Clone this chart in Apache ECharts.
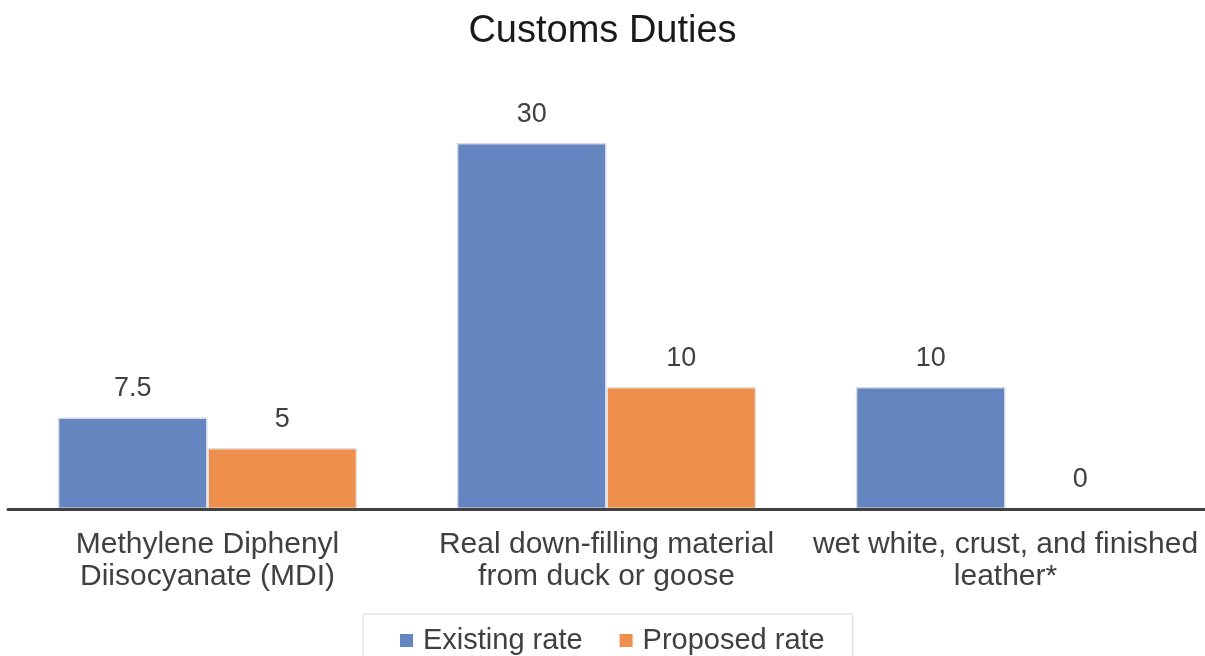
<!DOCTYPE html>
<html>
<head>
<meta charset="utf-8">
<style>
  html, body { margin: 0; padding: 0; background: #fff; }
  #chart { width: 1205px; height: 656px; }
</style>
<script src="https://cdn.jsdelivr.net/npm/echarts@6/dist/echarts.min.js"></script>
</head>
<body>
<div id="chart"></div>
<script>
// categories (line breaks as in the picture)
const categories = [
  'Methylene Diphenyl\nDiisocyanate (MDI)',
  'Real down-filling material\nfrom duck or goose',
  'wet white, crust, and finished\nleather*'
];
const seriesNames = ['Existing rate', 'Proposed rate'];
const existingRate = [7.5, 30, 10];
const proposedRate = [5, 10, 0];

const chart = echarts.init(document.getElementById('chart'));

const labelStyle = {
  show: true,
  position: 'top',
  distance: 15,
  fontFamily: 'Liberation Sans',
  fontSize: 27,
  color: '#404040'
};

const option = {
  animation: false,
  title: {
    text: 'Customs Duties',
    left: 'center',
    top: 8,
    textStyle: {
      fontFamily: 'Liberation Sans',
      fontSize: 38,
      fontWeight: 'normal',
      color: '#1a1a1a'
    }
  },
  legend: {
    data: seriesNames,
    left: 363,
    top: 614,
    padding: [12, 28, 20, 37],
    itemWidth: 13,
    itemHeight: 13,
    itemGap: 37,
    icon: 'rect',
    itemStyle: { borderWidth: 0 },
    borderColor: '#d9d9d9',
    borderWidth: 1,
    textStyle: {
      fontFamily: 'Liberation Sans',
      fontSize: 29,
      color: '#404040',
      padding: [0, 0, 0, 5]
    }
  },
  grid: {
    left: 8,
    right: 0,
    top: 143,
    bottom: 147
  },
  xAxis: {
    type: 'category',
    data: categories,
    z: 5,
    axisLine: { lineStyle: { color: '#404040', width: 3 } },
    axisTick: { show: false },
    axisLabel: {
      margin: 20,
      interval: 0,
      fontFamily: 'Liberation Sans',
      fontSize: 30,
      lineHeight: 32,
      color: '#404040'
    }
  },
  yAxis: {
    type: 'value',
    min: 0,
    max: 30,
    show: false,
    splitLine: { show: false }
  },
  series: [
    {
      name: seriesNames[0],
      type: 'bar',
      data: existingRate,
      barGap: '0%',
      barCategoryGap: '25%',
      itemStyle: { color: '#6585c1', borderColor: '#d3d9e5', borderWidth: 1.5 },
      label: labelStyle
    },
    {
      name: seriesNames[1],
      type: 'bar',
      data: proposedRate,
      itemStyle: { color: '#ef8f4d', borderColor: '#e5ddd6', borderWidth: 1.5 },
      label: labelStyle
    }
  ]
};

chart.setOption(option);
</script>
</body>
</html>
